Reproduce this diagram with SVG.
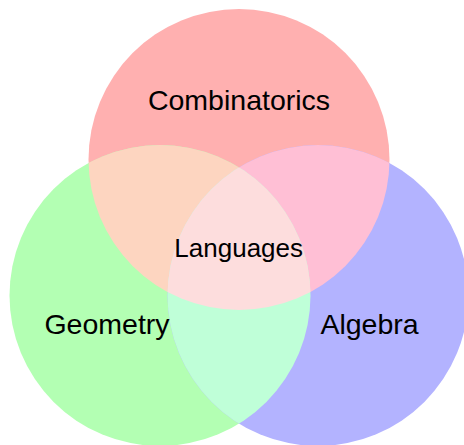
<svg xmlns="http://www.w3.org/2000/svg" width="464" height="445" viewBox="0 0 464 445">
<defs>
<clipPath id="cR"><circle cx="239" cy="159.5" r="150.5"/></clipPath>
<clipPath id="cG"><circle cx="160" cy="295.5" r="150.5"/></clipPath>
<clipPath id="cB"><circle cx="318" cy="295.5" r="150.5"/></clipPath>
</defs>
<style>
text{font-family:"Liberation Sans",Arial,sans-serif;fill:#000;text-anchor:middle}
.big{font-size:28.5px}
.small{font-size:26px}
</style>
<rect width="464" height="445" fill="#fff"/>
<g id="combinatorics"><circle cx="239" cy="159.5" r="150.5" fill="#ffb0b0"/></g>
<g id="geometry"><circle cx="160" cy="295.5" r="150.5" fill="#b3ffb3"/></g>
<g id="algebra"><circle cx="318" cy="295.5" r="150.5" fill="#b3b3ff"/></g>
<g id="overlaps">
<circle cx="160" cy="295.5" r="150.5" fill="#fdd5c0" clip-path="url(#cR)"/>
<circle cx="318" cy="295.5" r="150.5" fill="#ffbfd5" clip-path="url(#cR)"/>
<circle cx="318" cy="295.5" r="150.5" fill="#bfffd8" clip-path="url(#cG)"/>
<g clip-path="url(#cR)"><circle cx="318" cy="295.5" r="150.5" fill="#fddddd" clip-path="url(#cG)"/></g>
</g>
<g id="labels">
<text class="big" x="239" y="109.5">Combinatorics</text>
<text class="small" x="238.7" y="256.7">Languages</text>
<text class="big" x="107" y="334.3">Geometry</text>
<text class="big" x="369.5" y="333.5">Algebra</text>
</g>
</svg>
